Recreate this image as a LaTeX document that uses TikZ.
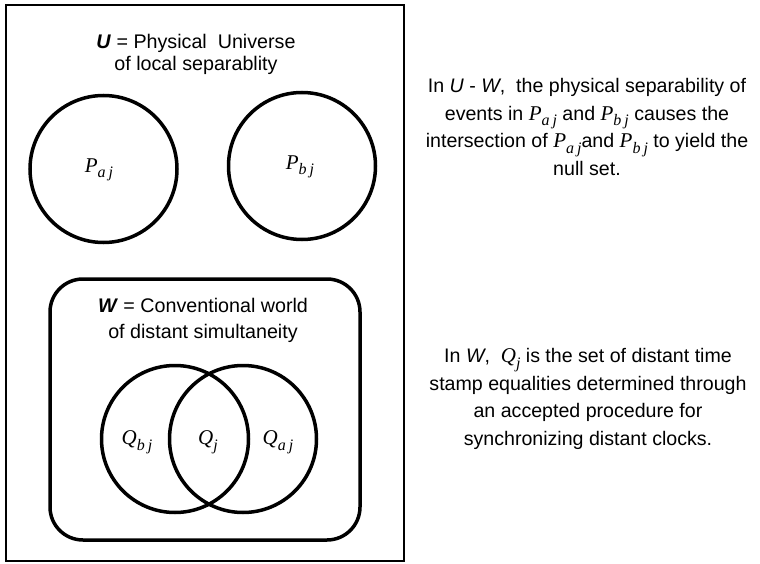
\documentclass[tikz,border=0pt]{standalone}
\usepackage{fontspec}
\setmainfont{Liberation Sans}
\newfontfamily\serifrm{Liberation Serif}
\usepackage{tikz}
\usetikzlibrary{positioning}
\newcommand{\setsym}[2]{{\serifrm\itshape\fontsize{21}{21}\selectfont #1\raisebox{-5.5pt}{\fontsize{16}{16}\selectfont #2}}}

\begin{document}
\begin{tikzpicture}[x=1pt,y=-1pt,
  frm/.style={draw,line width=2.5pt,minimum width=398pt,minimum height=556pt,inner sep=0pt},
  wbox/.style={draw,line width=3.5pt,rounded corners=33pt,minimum width=310pt,minimum height=261pt,inner sep=0pt},
  cir/.style={draw,circle,line width=3.5pt,minimum size=147pt,inner sep=0pt},
  lbl/.style={font=\fontsize{19.7}{22}\selectfont,align=center,inner sep=0pt},
  note/.style={font=\fontsize{19.6}{27.5}\selectfont,align=center,inner sep=0pt},
  sym/.style={inner sep=0pt}]
\useasboundingbox (0,0) rectangle (760,564);
\node[frm] (univ) at (205,283) {};
\node[lbl] (utitle) at (196,54) {\textbf{\textit{U}} = Physical\ \ Universe\\of local separablity};
\node[cir] (paj) at (103.5,169) {};
\node[sym] (pajl) at (99,170) {\setsym{P}{a\kern3pt j}};
\node[cir] (pbj) at (302,166) {};
\node[sym] (pbjl) at (300,167) {\setsym{P}{b\kern3pt j}};
\node[wbox] (world) at (205,409.5) {};
\node[lbl,font=\fontsize{19.7}{26}\selectfont] (wtitle) at (203,320) {\textbf{\textit{W}} = Conventional world\\of distant simultaneity};
\node[cir] (qb) at (175,439) {};
\node[cir] (qa) at (243,439) {};
\node[sym] (qbl) at (137,442) {\setsym{Q}{b\kern3pt j}};
\node[sym] (qjl) at (208,442) {\setsym{Q}{j}};
\node[sym] (qal) at (278,442) {\setsym{Q}{a\kern3pt j}};
\node[note] (note1) at (587,127) {In \textit{U} - \textit{W},\ \ the physical separability of\\events in \setsym{P}{a\kern3pt j} and \setsym{P}{b\kern3pt j} causes the\\intersection of \setsym{P}{a\kern3pt j}and \setsym{P}{b\kern3pt j} to yield the\\null set.};
\node[note] (note2) at (588,399) {In \textit{W},\ \ \setsym{Q}{j} is the set of distant time\\stamp equalities determined through\\an accepted procedure for\\synchronizing distant clocks.};
\end{tikzpicture}
\end{document}
